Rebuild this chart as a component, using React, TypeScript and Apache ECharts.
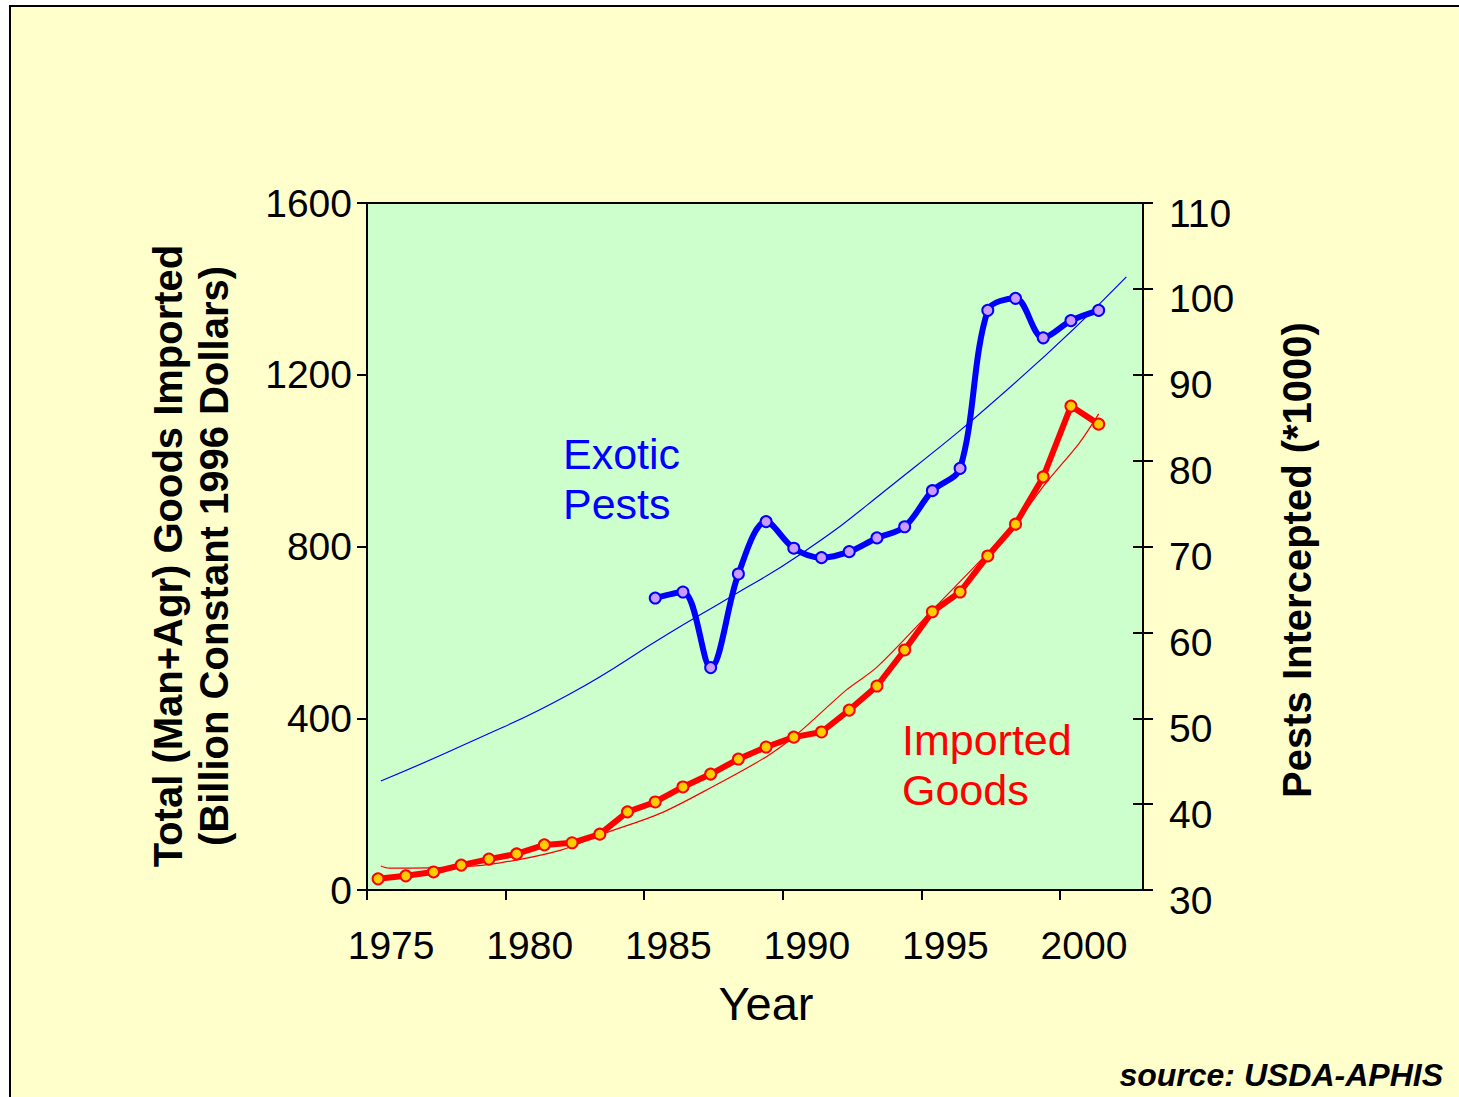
import React, { useEffect, useRef } from "react";
import * as echarts from "echarts";

// ---- Data ----
const years = [1975, 1976, 1977, 1978, 1979, 1980, 1981, 1982, 1983, 1984, 1985, 1986, 1987, 1988,
  1989, 1990, 1991, 1992, 1993, 1994, 1995, 1996, 1997, 1998, 1999, 2000, 2001];
// Total (Man+Agr) goods imported, billion constant 1996 dollars (left axis)
const importedGoods = [26, 33, 42, 58, 72, 84, 105, 110, 130, 182, 205, 240, 270, 305,
  333, 356, 368, 419, 475, 559, 648, 694, 778, 852, 962, 1127, 1085];

const pestYears = [1985, 1986, 1987, 1988, 1989, 1990, 1991, 1992, 1993, 1994, 1995, 1996,
  1997, 1998, 1999, 2000, 2001];
// Pests intercepted (*1000) (right axis)
const exoticPests = [64.0, 64.7, 55.9, 66.8, 72.9, 69.8, 68.7, 69.4, 71.0, 72.3, 76.5, 79.1,
  97.5, 98.9, 94.3, 96.3, 97.5];

// Thin trend lines, sampled along the drawn curves
const pestTrendYears = [1975.1, 1978.3, 1981.9, 1985.5, 1987.7, 1990.2, 1993.1, 1998.1, 2002.0];
const pestTrendValues = [42.7, 47.2, 52.8, 59.9, 64.1, 69.0, 76.0, 89.4, 101.4];

const goodsTrendYears = [1975.1, 1975.4, 1978.0, 1979.4, 1981.6, 1983.0, 1985.2, 1987.0, 1989.0,
  1990.1, 1991.9, 1993.0, 1995.0, 1997.0, 1998.1, 1999.1, 2000.3, 2001.0];
const goodsTrendValues = [56, 51, 54, 63, 93, 128, 179, 238, 310, 362, 466, 519, 652, 785,
  862, 948, 1041, 1109];

// Axis ticks
const xTickYears = [1975, 1980, 1985, 1990, 1995, 2000];
const leftTicks = { min: 0, max: 1600, interval: 400 };
const rightTicks = { min: 30, max: 110, interval: 10 };

const FONT = "'Liberation Sans', Arial, Helvetica, sans-serif";

export default function App() {
  const ref = useRef<HTMLDivElement>(null);

  useEffect(() => {
    if (!ref.current) return;
    const chart = echarts.init(ref.current, null, { renderer: "svg" });

    const zip = (xs: number[], ys: number[]) => xs.map((x, i) => [x, ys[i]]);
    const tickPos = xTickYears.map((y) => y - 0.4);
    const labelPos = xTickYears.map((y) => y + 0.47);

    const axisLine = { show: true, lineStyle: { color: "#000", width: 2 } };
    const labelStyle = { color: "#000", fontSize: 39, fontFamily: FONT };

    chart.setOption({
      animation: false,
      backgroundColor: "#FFFFCC",
      grid: {
        left: 367,
        top: 203,
        width: 776,
        height: 687,
        show: true,
        backgroundColor: "#CCFFCC",
        borderColor: "#000",
        borderWidth: 2,
      },
      xAxis: {
        type: "value",
        min: 1974.6,
        max: 2002.6,
        axisLine,
        axisTick: {
          show: true,
          inside: false,
          length: 10,
          customValues: tickPos,
          lineStyle: { color: "#000", width: 2 },
        },
        axisLabel: {
          ...labelStyle,
          margin: 36,
          customValues: labelPos,
          formatter: (v: number) => String(Math.round(v)),
        },
        splitLine: { show: false },
      },
      yAxis: [
        {
          type: "value",
          position: "left",
          ...leftTicks,
          axisLine,
          axisTick: { show: true, inside: false, length: 10, lineStyle: { color: "#000", width: 2 } },
          axisLabel: { ...labelStyle, margin: 15, formatter: (v: number) => String(v) },
          splitLine: { show: false },
        },
        {
          type: "value",
          position: "right",
          ...rightTicks,
          axisLine,
          axisTick: { show: true, inside: false, length: 10, lineStyle: { color: "#000", width: 2 } },
          axisLabel: {
            ...labelStyle,
            margin: 26,
            formatter: (v: number) => `{a|${v}}`,
            rich: {
              a: { color: "#000", fontSize: 39, fontFamily: FONT, padding: [20, 0, 0, 0] },
            },
          },
          splitLine: { show: false },
        },
        {
          type: "value",
          position: "right",
          ...rightTicks,
          axisLine,
          axisTick: { show: true, inside: true, length: 10, lineStyle: { color: "#000", width: 2 } },
          axisLabel: { show: false },
          splitLine: { show: false },
        },
      ],
      series: [
        {
          name: "Imported Goods trend",
          type: "line",
          yAxisIndex: 0,
          data: zip(goodsTrendYears, goodsTrendValues),
          smooth: 0.3,
          showSymbol: false,
          lineStyle: { color: "#FF0000", width: 1.2 },
          z: 2,
        },
        {
          name: "Exotic Pests trend",
          type: "line",
          yAxisIndex: 1,
          data: zip(pestTrendYears, pestTrendValues),
          smooth: 0.5,
          showSymbol: false,
          lineStyle: { color: "#0000FF", width: 1.2 },
          z: 2,
        },
        {
          name: "Imported Goods",
          type: "line",
          yAxisIndex: 0,
          data: zip(years, importedGoods),
          symbol: "circle",
          symbolSize: 11,
          lineStyle: { color: "#FF0000", width: 6 },
          itemStyle: { color: "#FFCC00", borderColor: "#FF0000", borderWidth: 2 },
          z: 3,
        },
        {
          name: "Exotic Pests",
          type: "line",
          yAxisIndex: 1,
          data: zip(pestYears, exoticPests),
          smooth: 0.33,
          symbol: "circle",
          symbolSize: 11,
          lineStyle: { color: "#0000FF", width: 6 },
          itemStyle: { color: "#CC99FF", borderColor: "#0000FF", borderWidth: 2 },
          z: 3,
        },
      ],
      graphic: [
        { type: "rect", shape: { x: 0, y: 0, width: 1459, height: 5 }, style: { fill: "#FFFFFF" }, silent: true },
        { type: "rect", shape: { x: 0, y: 0, width: 9, height: 1097 }, style: { fill: "#FFFFFF" }, silent: true },
        { type: "line", shape: { x1: 9, y1: 6, x2: 1459, y2: 6 }, style: { stroke: "#000", lineWidth: 2 }, silent: true },
        { type: "line", shape: { x1: 10, y1: 5, x2: 10, y2: 1097 }, style: { stroke: "#000", lineWidth: 2 }, silent: true },
        {
          type: "text",
          x: 191,
          y: 556,
          rotation: Math.PI / 2,
          style: {
            text: "Total (Man+Agr) Goods Imported\n(Billion Constant 1996 Dollars)",
            fill: "#000",
            fontSize: 40,
            fontWeight: "bold",
            fontFamily: FONT,
            lineHeight: 46,
            align: "center",
            verticalAlign: "middle",
          },
        },
        {
          type: "text",
          x: 1297,
          y: 560,
          rotation: Math.PI / 2,
          style: {
            text: "Pests Intercepted (*1000)",
            fill: "#000",
            fontSize: 40,
            fontWeight: "bold",
            fontFamily: FONT,
            align: "center",
            verticalAlign: "middle",
          },
        },
        {
          type: "text",
          x: 766,
          y: 1003,
          style: {
            text: "Year",
            fill: "#000",
            fontSize: 47,
            fontFamily: FONT,
            align: "center",
            verticalAlign: "middle",
          },
        },
        {
          type: "text",
          x: 563,
          y: 479,
          style: {
            text: "Exotic\nPests",
            fill: "#0000FF",
            fontSize: 43,
            fontFamily: FONT,
            lineHeight: 50,
            align: "left",
            verticalAlign: "middle",
          },
        },
        {
          type: "text",
          x: 902,
          y: 765,
          style: {
            text: "Imported\nGoods",
            fill: "#FF0000",
            fontSize: 43,
            fontFamily: FONT,
            lineHeight: 50,
            align: "left",
            verticalAlign: "middle",
          },
        },
        {
          type: "text",
          x: 1443,
          y: 1075,
          style: {
            text: "source: USDA-APHIS",
            fill: "#000",
            fontSize: 32,
            fontWeight: "bold",
            fontStyle: "italic",
            fontFamily: FONT,
            align: "right",
            verticalAlign: "middle",
          },
        },
      ],
    });

    return () => chart.dispose();
  }, []);

  return (
    <div
      ref={ref}
      style={{ position: "fixed", left: 0, top: 0, width: 1459, height: 1097 }}
    />
  );
}
